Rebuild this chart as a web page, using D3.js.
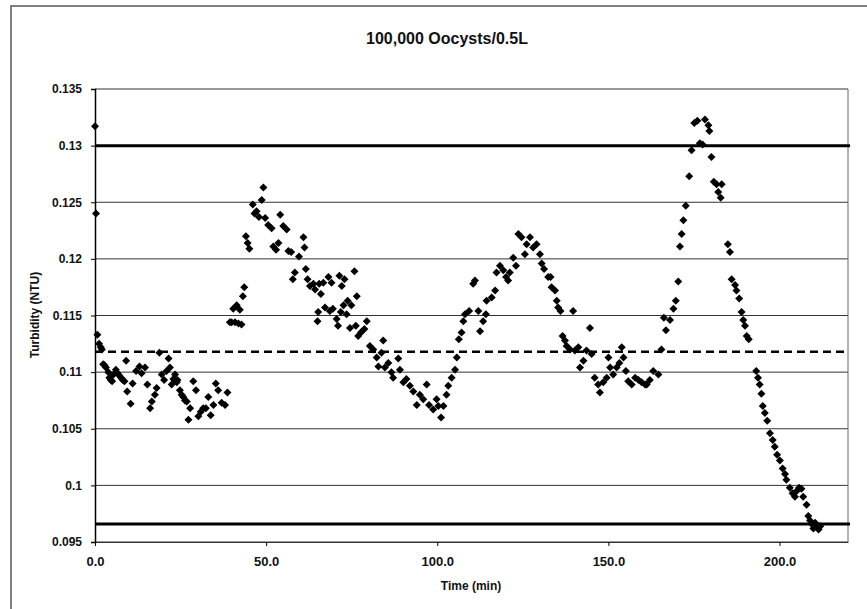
<!DOCTYPE html>
<html>
<head>
<meta charset="utf-8">
<script src="https://cdn.jsdelivr.net/npm/d3@7"></script>
<style>
  body { margin: 0; background: #fff; }
  text { font-family: "Liberation Sans", Arial, sans-serif; font-weight: bold; fill: #111; }
</style>
</head>
<body>
<div id="chart"></div>
<script>
// Time (min) of each reading
const timeMin = [
    0.0, 0.3, 0.7, 1.2, 1.7, 2.0,
    2.4, 2.8, 3.2, 3.9, 4.2, 4.6, 5.0, 5.4, 6.1, 6.6, 7.1, 7.6, 8.1, 8.6, 9.1, 9.4,
    10.4, 11.0, 12.0, 13.0, 13.6, 14.6, 15.3, 16.1, 16.6, 17.5, 18.0, 18.8, 19.5,
    20.2, 20.9, 21.5, 21.9, 22.4, 22.9, 23.4, 23.9, 24.1, 24.8, 25.3, 25.8, 26.3,
    26.8, 27.3, 27.8, 28.7, 29.5, 30.2, 30.9, 31.6, 32.4, 33.1, 33.8, 34.6, 35.3,
    36.0, 37.0, 38.0, 38.7,
    39.4, 39.9, 40.4, 40.9, 41.4, 41.9, 42.3, 42.8, 43.2, 43.6, 44.1, 44.6, 45.1,
    46.1, 46.6, 47.2, 47.9, 48.7, 49.2, 49.7, 50.6, 51.6, 52.1, 52.9, 53.6, 54.1,
    55.0, 56.0, 56.5, 57.3, 57.8, 58.4, 59.6, 60.9, 61.2, 61.6, 62.1, 62.8, 63.8,
    64.3, 65.0, 65.2, 65.5, 66.0, 66.7, 67.2, 68.2, 68.6, 69.1, 69.5, 70.6, 71.0,
    71.4, 71.8, 72.1, 72.6, 72.9, 73.5, 73.8, 74.5, 74.9, 75.8, 76.2, 76.5, 76.9,
    77.7, 78.7, 79.4, 80.3, 81.3, 82.3, 82.8, 83.7, 84.2, 84.7, 85.7, 86.6, 87.1,
    88.6, 89.1, 90.1, 91.0, 92.0, 93.0, 94.0, 94.9, 95.9, 96.9, 97.6, 98.8, 99.8,
    100.3, 101.1, 101.8, 102.7, 103.2, 104.2, 105.2, 105.7, 106.3, 107.1, 107.6,
    108.1, 109.3, 110.5, 111.0, 112.0, 112.5, 113.4, 114.2, 114.4, 115.9, 116.9,
    117.3, 118.3, 119.3, 120.1, 120.7, 121.2, 122.2, 123.0, 123.7, 124.6, 125.6,
    126.1, 127.1, 128.0, 129.0, 130.0, 130.5, 131.2, 132.4, 133.1, 133.4, 134.4,
    134.9, 135.3, 136.0, 136.6, 137.3, 137.8, 138.8, 139.7, 140.2, 141.2, 141.7,
    142.7, 143.6, 144.6, 145.1, 146.0, 147.0, 147.5, 148.5, 149.5, 150.0, 150.5,
    151.4, 152.4, 153.2, 153.9, 154.4, 155.1, 155.8, 156.8, 157.8, 158.8, 159.7,
    160.7, 161.2, 162.1, 163.1, 164.6, 165.5, 166.2, 166.8, 168.0, 169.0, 169.7,
    170.4, 170.9, 171.4, 171.9, 172.6, 173.6, 174.3, 175.1, 176.0, 176.7, 177.5,
    178.2, 179.2, 179.5, 180.1, 180.8, 181.6, 182.1, 182.8, 183.1, 184.9, 185.5,
    186.0, 187.0, 187.4, 188.2, 188.9, 189.4, 189.9, 190.4, 191.0, 193.2, 193.7,
    194.2, 194.7, 195.1, 195.7, 196.4, 197.2, 198.0, 198.6, 199.3, 200.1, 200.9,
    201.6, 202.0, 203.0, 203.8, 204.5, 205.0, 205.7, 206.4, 206.9, 207.9, 208.4,
    208.9, 209.4, 209.9, 210.4, 210.9, 211.4, 211.9
];

// Turbidity (NTU) read for each time above
const turbidity = [
    0.1317, 0.1240, 0.1133, 0.1125, 0.1122, 0.1120,
    0.1107, 0.1106, 0.1104, 0.1100, 0.1095, 0.1093, 0.1092, 0.1098, 0.1102, 0.1099, 0.1097, 0.1095, 0.1093, 0.1092, 0.1110, 0.1083,
    0.1072, 0.1090, 0.1101, 0.1105, 0.1099, 0.1104, 0.1089, 0.1068, 0.1074, 0.1080, 0.1086, 0.1117, 0.1098,
    0.1093, 0.1101, 0.1112, 0.1104, 0.1089, 0.1094, 0.1098, 0.1091, 0.1093, 0.1084, 0.1080, 0.1078, 0.1075,
    0.1074, 0.1058, 0.1068, 0.1092, 0.1084, 0.1061, 0.1065, 0.1068, 0.1068, 0.1078, 0.1062, 0.1071, 0.1090,
    0.1084, 0.1073, 0.1071, 0.1082,
    0.1144, 0.1144, 0.1156, 0.1144, 0.1159, 0.1143, 0.1155, 0.1142, 0.1167, 0.1175, 0.1220, 0.1214, 0.1209,
    0.1248, 0.1240, 0.1242, 0.1237, 0.1252, 0.1263, 0.1236, 0.1230, 0.1227, 0.1211, 0.1208, 0.1214, 0.1239,
    0.1229, 0.1226, 0.1207, 0.1206, 0.1182, 0.1188, 0.1202, 0.1219, 0.1210, 0.1191, 0.1182, 0.1176, 0.1178,
    0.1173, 0.1145, 0.1153, 0.1178, 0.1169, 0.1179, 0.1157, 0.1184, 0.1154, 0.1179, 0.1156, 0.1147, 0.1141,
    0.1185, 0.1153, 0.1176, 0.1159, 0.1182, 0.1151, 0.1163, 0.1139, 0.1159, 0.1189, 0.1141, 0.1167, 0.1132,
    0.1135, 0.1138, 0.1145, 0.1123, 0.1120, 0.1113, 0.1105, 0.1117, 0.1128, 0.1104, 0.1108, 0.1100, 0.1095,
    0.1112, 0.1102, 0.1091, 0.1094, 0.1088, 0.1083, 0.1071, 0.1080, 0.1076, 0.1089, 0.1071, 0.1067, 0.1076,
    0.1070, 0.1060, 0.1070, 0.1080, 0.1088, 0.1095, 0.1102, 0.1113, 0.1129, 0.1135, 0.1145,
    0.1151, 0.1154, 0.1178, 0.1181, 0.1154, 0.1136, 0.1145, 0.1151, 0.1163, 0.1166, 0.1172,
    0.1188, 0.1194, 0.1190, 0.1184, 0.1181, 0.1188, 0.1201, 0.1194, 0.1222, 0.1219, 0.1204,
    0.1213, 0.1219, 0.1210, 0.1213, 0.1204, 0.1196, 0.1191, 0.1184, 0.1184, 0.1175, 0.1172,
    0.1163, 0.1157, 0.1154, 0.1132, 0.1128, 0.1123, 0.1120, 0.1154, 0.1119, 0.1122, 0.1104,
    0.1110, 0.1119, 0.1139, 0.1116, 0.1095, 0.1089, 0.1082, 0.1091, 0.1095, 0.1113, 0.1104,
    0.1098, 0.1104, 0.1108, 0.1122, 0.1113, 0.1101, 0.1092, 0.1089, 0.1095, 0.1093, 0.1091,
    0.1089, 0.1089, 0.1093, 0.1101, 0.1098, 0.1120, 0.1148, 0.1137, 0.1146, 0.1156, 0.1163,
    0.1180, 0.1211, 0.1222, 0.1234, 0.1247, 0.1273, 0.1296, 0.1320, 0.1322, 0.1302, 0.1301,
    0.1323, 0.1318, 0.1313, 0.1290, 0.1268, 0.1266, 0.1259, 0.1254, 0.1266, 0.1213, 0.1206,
    0.1182, 0.1177, 0.1172, 0.1165, 0.1153, 0.1146, 0.1141, 0.1132, 0.1129, 0.1101, 0.1095,
    0.1089, 0.1081, 0.1070, 0.1064, 0.1057, 0.1046, 0.1040, 0.1034, 0.1027, 0.1022, 0.1015,
    0.1010, 0.1005, 0.0998, 0.0993, 0.0990, 0.0995, 0.0998, 0.0997, 0.0990, 0.0983, 0.0973,
    0.0969, 0.0966, 0.0962, 0.0967, 0.0964, 0.0961, 0.0964
];

// Axis ticks
const xTicks = [0, 50, 100, 150, 200];
const yTicks = [0.095, 0.1, 0.105, 0.11, 0.115, 0.12, 0.125, 0.13, 0.135];

// Control lines: upper limit, mean (dashed), lower limit
const upperLimit = 0.13;
const meanLine = 0.1118;
const lowerLimit = 0.0966;

const width = 867, height = 609;
const plot = { left: 95, right: 848, top: 89, bottom: 542 };

const svg = d3.select("#chart").append("svg")
    .attr("width", width)
    .attr("height", height);

// Outer chart frame (runs off the right and bottom of the picture)
svg.append("rect")
    .attr("x", 11).attr("y", 6)
    .attr("width", 900).attr("height", 700)
    .style("fill", "none")
    .style("stroke", "#555")
    .style("stroke-width", 1.5);

// Scales
const x = d3.scaleLinear().domain([0, 220]).range([plot.left, plot.right]);
const y = d3.scaleLinear().domain([0.095, 0.135]).range([plot.bottom, plot.top]);

// Horizontal gridlines
svg.append("g")
    .selectAll("line")
    .data(yTicks)
    .enter().append("line")
    .attr("x1", plot.left).attr("x2", plot.right)
    .attr("y1", d => y(d)).attr("y2", d => y(d))
    .style("stroke", "#333")
    .style("stroke-width", 1);

// Right edge of the plot area
svg.append("line")
    .attr("x1", plot.right).attr("x2", plot.right)
    .attr("y1", plot.top).attr("y2", plot.bottom)
    .style("stroke", "#666")
    .style("stroke-width", 1);

// Y axis
const yAxis = d3.axisLeft(y)
    .tickValues(yTicks)
    .tickFormat(d => d3.format("")(+d.toFixed(3)))
    .tickSize(4)
    .tickPadding(9);

const yG = svg.append("g")
    .attr("transform", "translate(" + plot.left + ",0)")
    .call(yAxis);
yG.select(".domain").style("stroke", "#000").style("stroke-width", 1.5);
yG.selectAll(".tick line").style("stroke", "#000");
yG.selectAll("text")
    .style("font-size", "12px")
    .style("font-family", "Liberation Sans, Arial, sans-serif")
    .style("font-weight", "bold")
    .style("fill", "#111");

// X axis
const xAxis = d3.axisBottom(x)
    .tickValues(xTicks)
    .tickFormat(d3.format(".1f"))
    .tickSize(4)
    .tickSizeOuter(0)
    .tickPadding(11);

const xG = svg.append("g")
    .attr("transform", "translate(0," + plot.bottom + ")")
    .call(xAxis);
xG.select(".domain").style("stroke", "#333").style("stroke-width", 1);
xG.selectAll(".tick line").style("stroke", "#000");
xG.selectAll("text")
    .style("font-size", "13px")
    .style("font-family", "Liberation Sans, Arial, sans-serif")
    .style("font-weight", "bold")
    .style("fill", "#111");

// Control lines
[upperLimit, lowerLimit].forEach(v => {
    svg.append("line")
        .attr("x1", plot.left).attr("x2", plot.right + 2)
        .attr("y1", y(v)).attr("y2", y(v))
        .style("stroke", "#000")
        .style("stroke-width", 3);
});

svg.append("line")
    .attr("x1", plot.left).attr("x2", plot.right - 4)
    .attr("y1", y(meanLine)).attr("y2", y(meanLine))
    .style("stroke", "#000")
    .style("stroke-width", 2.5)
    .style("stroke-dasharray", "8,5");

// Data points as diamond markers
const points = timeMin.map((t, i) => ({ t: t, v: turbidity[i] }));
const diamond = d3.symbol().type(d3.symbolSquare).size(32);

svg.append("g")
    .selectAll("path")
    .data(points)
    .enter().append("path")
    .attr("d", diamond)
    .attr("transform", d => "translate(" + x(d.t) + "," + y(d.v) + ") rotate(45)")
    .style("fill", "#000");

// Title and axis labels
svg.append("text")
    .attr("x", 447).attr("y", 44)
    .attr("text-anchor", "middle")
    .style("font-size", "16px")
    .text("100,000 Oocysts/0.5L");

svg.append("text")
    .attr("x", 471).attr("y", 590)
    .attr("text-anchor", "middle")
    .style("font-size", "12px")
    .text("Time (min)");

svg.append("text")
    .attr("transform", "translate(39,315) rotate(-90)")
    .attr("text-anchor", "middle")
    .style("font-size", "12px")
    .text("Turbidity (NTU)");
</script>
</body>
</html>
